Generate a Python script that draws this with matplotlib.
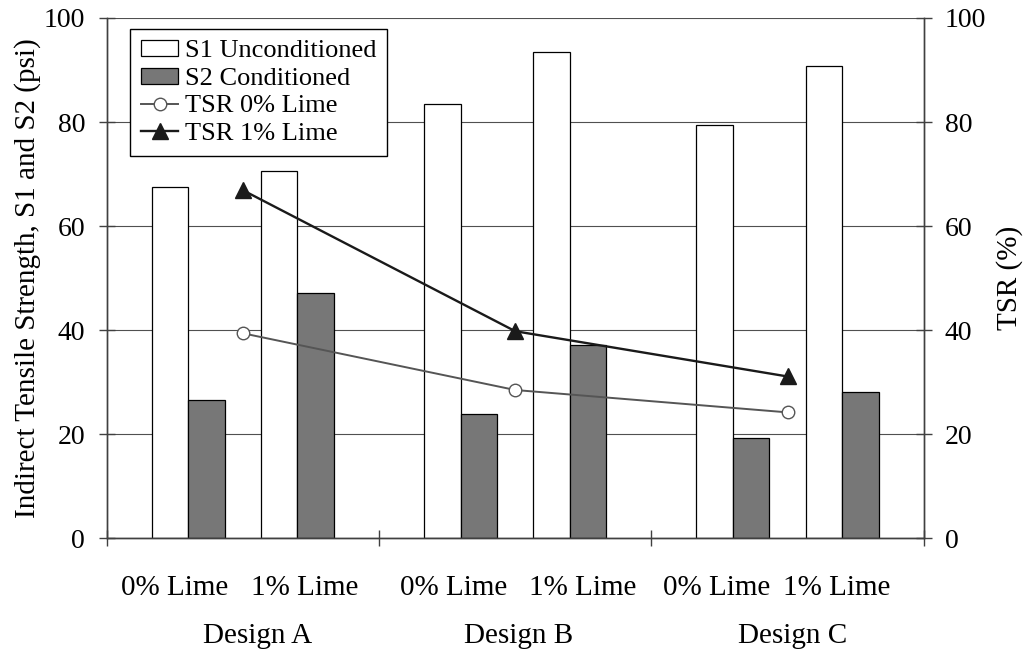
import matplotlib
matplotlib.use('Agg')
import matplotlib.pyplot as plt
import numpy as np
from matplotlib.patches import Patch
from matplotlib.lines import Line2D
from matplotlib.transforms import blended_transform_factory

# ---------------- data ----------------
designs = ['Design A', 'Design B', 'Design C']
lime_labels = ['0% Lime', '1% Lime']
s1_0 = [67.6, 83.5, 79.4]   # S1 Unconditioned, 0% lime
s2_0 = [26.6, 23.8, 19.2]   # S2 Conditioned, 0% lime
s1_1 = [70.6, 93.5, 90.8]   # S1 Unconditioned, 1% lime
s2_1 = [47.2, 37.2, 28.2]   # S2 Conditioned, 1% lime
tsr_0 = [39.4, 28.5, 24.2]  # TSR 0% lime
tsr_1 = [66.9, 39.8, 31.1]  # TSR 1% lime
y_ticks = [0, 20, 40, 60, 80, 100]

# ---------------- style ----------------
plt.rcParams['font.family'] = ['Liberation Serif', 'DejaVu Serif']
plt.rcParams['font.size'] = 20

fig = plt.figure(figsize=(10.24, 6.52), dpi=100)
ax = fig.add_axes([0.1042, 0.1744, 0.7979, 0.798])
ax2 = ax.twinx()

centers = np.arange(len(designs)) + 0.5
w = 0.134
offs = [-0.2675, -0.1335, 0.1335, 0.2675]
bar_kw = dict(width=w, edgecolor='black', linewidth=0.9, zorder=2)
ax.bar(centers + offs[0], s1_0, color='white', **bar_kw)
ax.bar(centers + offs[1], s2_0, color='#777777', **bar_kw)
ax.bar(centers + offs[2], s1_1, color='white', **bar_kw)
ax.bar(centers + offs[3], s2_1, color='#777777', **bar_kw)

ax2.plot(centers, tsr_0, color='#555555', lw=1.4, marker='o', ms=9,
         mfc='white', mec='#555555', mew=1.0, zorder=3, clip_on=False)
ax2.plot(centers, tsr_1, color='#1a1a1a', lw=1.7, marker='^', ms=11.5,
         mfc='#1a1a1a', mec='#1a1a1a', zorder=4, clip_on=False)

for a in (ax, ax2):
    a.set_xlim(0, 3)
    a.set_ylim(0, 100)
    a.set_yticks(y_ticks)
    a.spines['top'].set_visible(False)
    for s in ('left', 'right', 'bottom'):
        a.spines[s].set_color('#404040')
        a.spines[s].set_linewidth(1.0)

ax.set_axisbelow(True)
ax.yaxis.grid(True, color='#505050', lw=0.8)
ax.tick_params(axis='y', direction='inout', length=12, width=1, color='#404040',
               pad=9.5, labelsize=20)
ax2.tick_params(axis='y', direction='inout', length=12, width=1, color='#404040',
                pad=9.0, labelsize=20)
ax.set_xticks([0, 1, 2, 3])
ax.set_xticklabels([])
ax.tick_params(axis='x', direction='inout', length=12, width=1, color='#404040')
ax2.tick_params(axis='x', length=0)

# category labels
tr = blended_transform_factory(ax.transData, ax.transAxes)
lime_pos = [0.251, 0.726, 1.272, 1.749, 2.241, 2.682]
design_pos = [0.554, 1.514, 2.517]
for i, p in enumerate(lime_pos):
    ax.text(p, -0.109, lime_labels[i % 2], transform=tr, ha='center',
            va='baseline', fontsize=21)
for d, p in zip(designs, design_pos):
    ax.text(p, -0.201, d, transform=tr, ha='center', va='baseline', fontsize=21)

fig.text(28 / 1024, 1 - 278 / 652, 'Indirect Tensile Strength, S1 and S2 (psi)',
         rotation=90, ha='center', va='center', fontsize=21)
fig.text(1010 / 1024, 1 - 278 / 652, 'TSR (%)', rotation=90, ha='center',
         va='center', fontsize=21)

handles = [
    Patch(facecolor='white', edgecolor='black', linewidth=0.9),
    Patch(facecolor='#777777', edgecolor='black', linewidth=0.9),
    Line2D([], [], color='#555555', lw=1.4, marker='o', ms=9, mfc='white',
           mec='#555555'),
    Line2D([], [], color='#1a1a1a', lw=1.7, marker='^', ms=11.5, mfc='#1a1a1a'),
]
leg = ax2.legend(handles, ['S1 Unconditioned', 'S2 Conditioned', 'TSR 0% Lime',
                           'TSR 1% Lime'],
                 loc='upper left', bbox_to_anchor=(130 / 1024, 1 - 29 / 652),
                 bbox_transform=fig.transFigure, borderaxespad=0,
                 fontsize=19, frameon=True, fancybox=False, framealpha=1,
                 edgecolor='black', handlelength=1.4, handleheight=0.55,
                 handletextpad=0.25, labelspacing=0.2, borderpad=0.42)
leg.get_frame().set_linewidth(1.0)
leg.set_zorder(10)

fig.savefig('out.png', dpi=100)
